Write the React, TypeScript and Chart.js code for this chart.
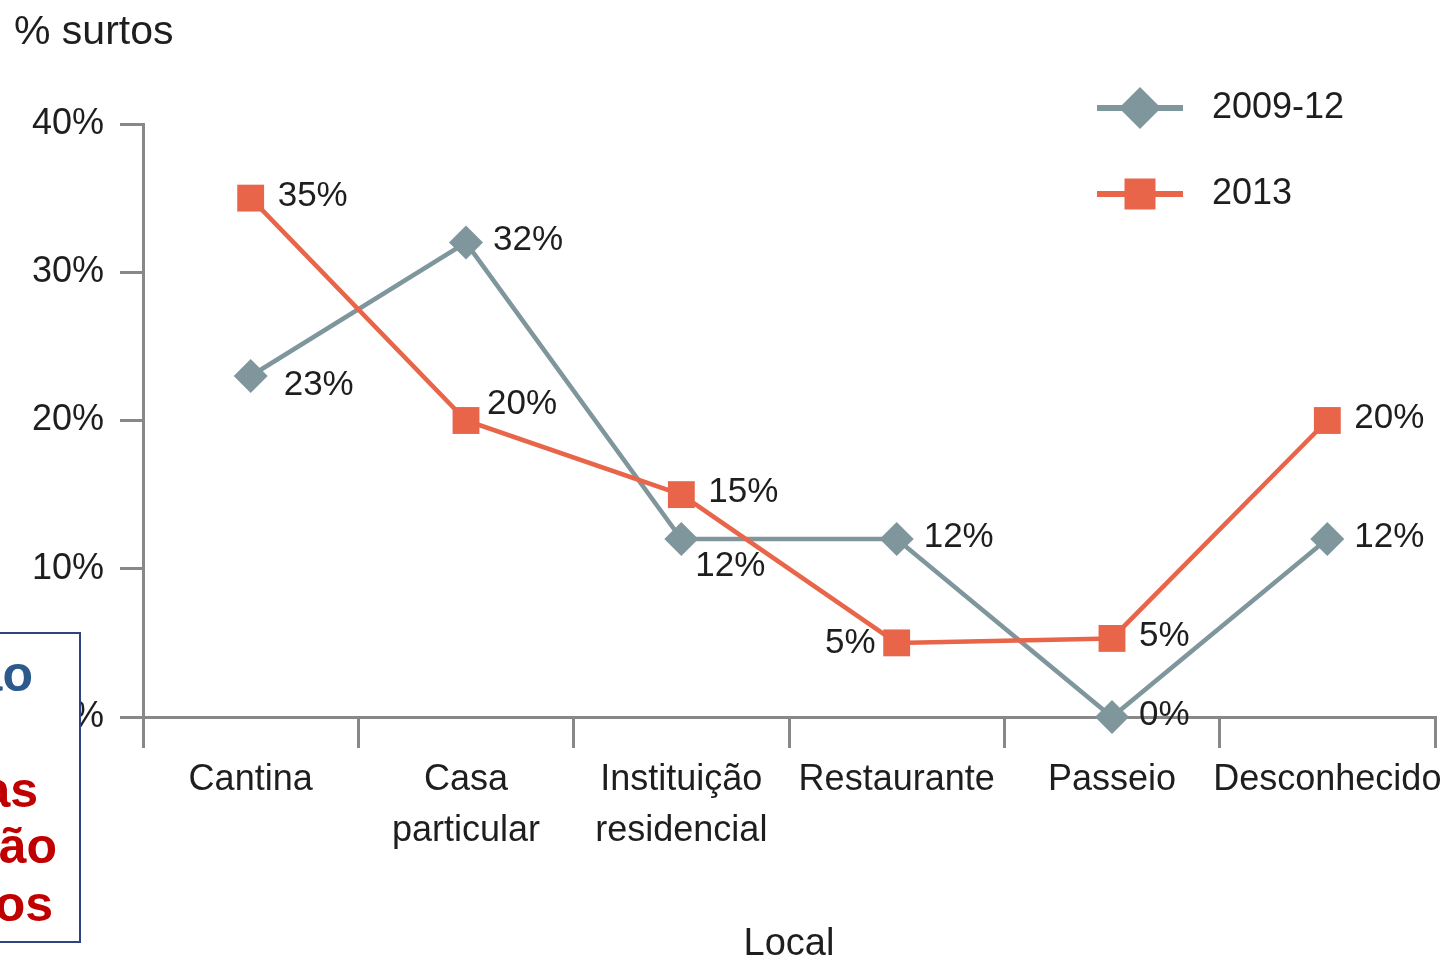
import React, { useEffect, useRef } from 'react';
import { Chart, registerables } from 'chart.js';

Chart.register(...registerables);

// ---------- data ----------
const categories: string[][] = [
  ['Cantina'],
  ['Casa', 'particular'],
  ['Instituição', 'residencial'],
  ['Restaurante'],
  ['Passeio'],
  ['Desconhecido'],
];
const seriesNames = ['2009-12', '2013'];
const values2009 = [23, 32, 12, 12, 0, 12];
const values2013 = [35, 20, 15, 5, 5.3, 20];
const yMin = 0;
const yMax = 40;
const yStep = 10;
const yTitle = '% surtos';
const xTitle = 'Local';

// label placement around each point (style, not data)
const place2009 = ['rightLow', 'right', 'below', 'right', 'right', 'right'];
const place2013 = ['right', 'rightHigh', 'right', 'left', 'right', 'right'];

// ---------- style ----------
const FONT = '"Liberation Sans", Arial, sans-serif';
const TEXT = '#1e1e1e';
const GRAY = '#7f969d';
const ORANGE = '#e8654a';
const AXIS = '#888888';

const placeOffsets: Record<string, { dx: number; dy: number; align: CanvasTextAlign }> = {
  right: { dx: 27, dy: -2, align: 'left' },
  rightLow: { dx: 33, dy: 9, align: 'left' },
  rightHigh: { dx: 21, dy: -16, align: 'left' },
  below: { dx: 14, dy: 27, align: 'left' },
  left: { dx: -21, dy: 0, align: 'right' },
};

const overlayPlugin = {
  id: 'overlayPlugin',
  afterDatasetsDraw(chart: any) {
    const ctx: CanvasRenderingContext2D = chart.ctx;
    ctx.save();
    ctx.textBaseline = 'middle';
    ctx.fillStyle = TEXT;
    // value labels
    ctx.font = `35px ${FONT}`;
    chart.data.datasets.forEach((ds: any, i: number) => {
      const meta = chart.getDatasetMeta(i);
      meta.data.forEach((pt: any, j: number) => {
        const o = placeOffsets[ds.labelPlace[j]];
        ctx.textAlign = o.align;
        ctx.fillText(Math.round(ds.data[j]) + '%', pt.x + o.dx, pt.y + o.dy);
      });
    });
    // y title
    ctx.font = `41px ${FONT}`;
    ctx.textAlign = 'left';
    ctx.fillText(yTitle, 14, 33);
    // legend
    const rows = [
      { name: seriesNames[0], color: GRAY, style: 'diamond', y: 108 },
      { name: seriesNames[1], color: ORANGE, style: 'square', y: 194 },
    ];
    rows.forEach((r) => {
      ctx.strokeStyle = r.color;
      ctx.fillStyle = r.color;
      ctx.lineWidth = 6;
      ctx.beginPath();
      ctx.moveTo(1097, r.y);
      ctx.lineTo(1183, r.y);
      ctx.stroke();
      const cx = 1140;
      ctx.beginPath();
      if (r.style === 'diamond') {
        const h = 21;
        ctx.moveTo(cx - h, r.y);
        ctx.lineTo(cx, r.y - h);
        ctx.lineTo(cx + h, r.y);
        ctx.lineTo(cx, r.y + h);
        ctx.closePath();
      } else {
        ctx.rect(cx - 15.5, r.y - 15.5, 31, 31);
      }
      ctx.fill();
      ctx.fillStyle = TEXT;
      ctx.font = `36px ${FONT}`;
      ctx.textAlign = 'left';
      ctx.fillText(r.name, 1212, r.y);
    });
    ctx.restore();
  },
};

const boxText = (text: string, right: number, center: number, color: string) => (
  <div
    style={{
      position: 'absolute',
      right: 1454 - right,
      top: center - 30,
      height: 60,
      lineHeight: '60px',
      whiteSpace: 'nowrap',
      font: 'bold 50px "Liberation Sans", Arial, sans-serif',
      color,
      zIndex: 3,
    }}
  >
    {text}
  </div>
);

export default function App() {
  const ref = useRef<HTMLCanvasElement>(null);

  useEffect(() => {
    document.body.style.margin = '0';
    const canvas = ref.current!;
    const chart = new Chart(canvas, {
      type: 'line',
      data: {
        labels: categories,
        datasets: [
          {
            label: seriesNames[1],
            data: values2013,
            borderColor: ORANGE,
            backgroundColor: ORANGE,
            borderWidth: 4.5,
            pointStyle: 'rect',
            pointRadius: 19,
            pointHoverRadius: 19,
            pointBorderWidth: 0,
            pointBackgroundColor: ORANGE,
            tension: 0,
            clip: false,
            labelPlace: place2013,
          } as any,
          {
            label: seriesNames[0],
            data: values2009,
            borderColor: GRAY,
            backgroundColor: GRAY,
            borderWidth: 4.5,
            pointStyle: 'rectRot',
            pointRadius: 17,
            pointHoverRadius: 17,
            pointBorderWidth: 0,
            pointBackgroundColor: GRAY,
            tension: 0,
            clip: false,
            labelPlace: place2009,
          } as any,
        ],
      },
      options: {
        responsive: false,
        animation: false,
        devicePixelRatio: 1,
        layout: { padding: { top: 124, right: 18, left: 0, bottom: 0 } },
        plugins: {
          legend: { display: false },
          tooltip: { enabled: false },
        },
        scales: {
          x: {
            type: 'category',
            offset: true,
            grid: {
              offset: true,
              drawOnChartArea: false,
              drawTicks: true,
              tickLength: 31,
              color: AXIS,
              lineWidth: 3,
            },
            border: { display: true, color: AXIS, width: 3 },
            ticks: {
              color: TEXT,
              font: { family: FONT, size: 36, lineHeight: 1.4 },
              padding: 7,
              maxRotation: 0,
              autoSkip: false,
            },
            title: {
              display: true,
              text: xTitle,
              color: TEXT,
              font: { family: FONT, size: 38, lineHeight: 0.8 },
              padding: { top: 0, bottom: 0 },
            },
            afterFit(scale: any) {
              scale.height = 243;
            },
          },
          y: {
            min: yMin,
            max: yMax,
            grid: {
              drawOnChartArea: false,
              drawTicks: true,
              tickLength: 23,
              color: AXIS,
              lineWidth: 3,
            },
            border: { display: true, color: AXIS, width: 3 },
            ticks: {
              stepSize: yStep,
              color: TEXT,
              font: { family: FONT, size: 36 },
              padding: 16,
              callback: (v: any) => v + '%',
            },
            afterFit(scale: any) {
              scale.width = 143;
            },
          },
        },
      },
      plugins: [overlayPlugin],
    });
    return () => chart.destroy();
  }, []);

  return (
    <div
      style={{
        position: 'fixed',
        left: 0,
        top: 0,
        width: 1454,
        height: 960,
        overflow: 'hidden',
        background: '#ffffff',
      }}
    >
      <canvas ref={ref} width={1454} height={960} style={{ display: 'block', width: 1454, height: 960 }} />
      <div
        style={{
          position: 'absolute',
          left: -10,
          top: 632,
          width: 87,
          height: 307,
          border: '2px solid #2f4285',
          background: '#ffffff',
          zIndex: 2,
        }}
      />
      {boxText('ão', 33, 675, '#2c5a8c')}
      {boxText('as', 38, 791, '#c00000')}
      {boxText('ão', 57, 847, '#c00000')}
      {boxText('os', 53, 905, '#c00000')}
    </div>
  );
}
